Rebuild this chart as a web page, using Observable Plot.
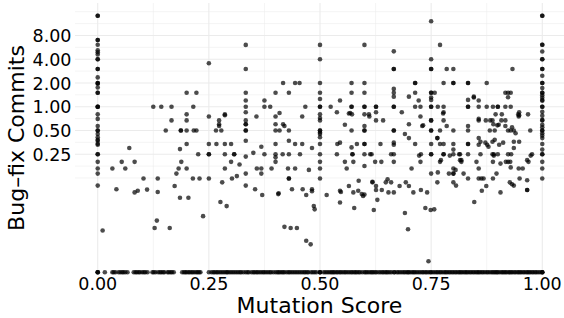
<!DOCTYPE html>
<html><head><meta charset="utf-8">
<script src="https://cdn.jsdelivr.net/npm/d3@7"></script>
<script src="https://cdn.jsdelivr.net/npm/@observablehq/plot@0.6"></script>
<style>
html,body{margin:0;padding:0;background:#fff;}
#chart svg{display:block;}
</style></head><body><div id="chart"></div>
<script>
// ---- tick labels / titles ----
const xTicks = [0, 0.25, 0.5, 0.75, 1];
const yTicks = [0.25, 0.5, 1, 2, 4, 8];
const xLabel = "Mutation Score";
const yLabel = "Bug–fix Commits";

// ---- data ----
// bug-fix commits of projects with mutation score 0
const commitsAtScore0 = [14.2, 14.2, 7, 7, 6.1, 5.2, 4.9, 4.6, 4, 4, 3, 3, 2.35, 2, 2, 1.95, 1.75, 1.5, 1.5,
  1, 1, 1, 0.8, 0.7, 0.57, 0.5, 0.5, 0.45, 0.41, 0.38, 0.37, 0.34, 0.33, 0.25, 0.25, 0.2, 0.165, 0.142, 0.1];
// bug-fix commits of projects with mutation score 1
const commitsAtScore1 = [14.2, 14.2, 6.1, 6.1, 5, 4, 4, 3, 3, 2.47, 2, 2, 1.72, 1.5, 1.5, 1.4, 1.31, 1.22, 1.19,
  1, 1, 0.86, 0.77, 0.68, 0.67, 0.59, 0.55, 0.5, 0.5, 0.46, 0.43, 0.4, 0.336, 0.286, 0.25, 0.25, 0.2, 0.165, 0.123];
// [mutation score, bug-fix commits] for scores strictly between 0 and 1
const scoreCommitPairs = [
[0.011,0.027],[0.033,0.165],[0.042,0.09],[0.054,0.2],[0.062,0.165],[0.071,0.3],[0.083,0.2],[0.083,0.082],[0.09,0.086],[0.103,0.123],[0.111,0.089],[0.125,1],[0.128,0.029],[0.133,0.036],[0.135,0.123],[0.135,0.083],[0.143,1],[0.153,0.5],[0.162,0.029],[0.166,1],[0.166,0.67],[0.173,0.099],[0.177,0.142],[0.182,0.165],[0.185,0.29],[0.185,0.07],[0.187,0.5],[0.187,0.5],[0.188,0.2],[0.2,1.5],[0.2,0.8],[0.2,0.67],[0.2,0.5],[0.2,0.336],[0.2,0.165],[0.204,0.07],[0.214,0.123],[0.215,1],[0.216,0.5],[0.222,1.5],[0.222,0.5],[0.226,0.25],[0.229,0.123],[0.237,0.041],
[0.25,3.55],[0.25,0.75],[0.25,0.336],[0.25,0.25],[0.25,0.25],[0.25,0.123],
[0.266,0.5],[0.267,0.336],[0.273,0.67],[0.273,0.6],[0.273,0.57],[0.276,0.062],[0.278,0.5],[0.28,0.11],[0.286,0.8],[0.286,0.78],[0.286,0.336],[0.286,0.25],[0.286,0.165],[0.29,0.055],[0.3,0.336],[0.3,0.2],[0.302,0.123],[0.307,0.25],[0.307,0.25],[0.313,0.132],[0.319,0.185],
[0.333,6.07],[0.333,3],[0.333,1.5],[0.333,1.2],[0.333,1],[0.333,0.85],[0.333,0.67],[0.333,0.6],[0.333,0.6],[0.333,0.5],[0.333,0.5],[0.333,0.37],[0.333,0.233],[0.333,0.142],[0.333,0.1],
[0.35,0.26],[0.354,0.09],[0.357,0.75],[0.358,0.165],[0.368,0.31],[0.368,0.165],[0.368,0.142],[0.37,0.076],[0.375,1.2],[0.375,1],[0.375,0.25],[0.388,1],[0.391,0.165],[0.4,1.5],[0.4,0.75],[0.4,0.6],[0.4,0.5],[0.4,0.336],[0.4,0.25],[0.4,0.228],[0.4,0.2],[0.406,0.078],[0.407,0.08],[0.409,0.83],[0.409,0.5],[0.416,0.25],[0.417,2],[0.417,0.6],[0.42,0.57],[0.42,0.03],[0.428,0.165],[0.43,1.5],[0.43,0.5],[0.43,0.37],[0.43,0.25],[0.43,0.123],[0.43,0.123],[0.434,0.029],[0.437,0.09],[0.444,2],[0.444,0.336],[0.444,0.165],[0.448,0.029],[0.454,2],[0.455,0.25],[0.46,0.75],[0.46,0.336],[0.461,0.09],[0.467,1],[0.469,0.076],[0.469,0.02],[0.475,0.158],[0.479,0.018],[0.482,0.3],[0.482,0.09],[0.482,0.085],[0.486,0.055],[0.488,0.05],
[0.5,6.07],[0.5,4],[0.5,2],[0.5,1.5],[0.5,1.25],[0.5,1],[0.5,1],[0.5,0.8],[0.5,0.72],[0.5,0.67],[0.5,0.5],[0.5,0.5],[0.5,0.47],[0.5,0.45],[0.5,0.41],[0.5,0.336],[0.5,0.25],[0.5,0.2],[0.5,0.165],[0.5,0.123],
[0.515,0.076],[0.524,1],[0.538,0.85],[0.538,0.25],[0.539,0.336],[0.545,1.2],[0.545,0.35],[0.545,0.086],[0.545,0.061],[0.547,0.083],[0.556,0.59],[0.556,0.2],[0.56,0.165],[0.565,0.82],[0.565,0.099],[0.568,0.83],[0.571,2],[0.571,1.5],[0.571,1],[0.571,1],[0.571,0.5],[0.571,0.305],[0.572,0.8],[0.573,0.25],[0.573,0.25],[0.575,0.2],[0.575,0.082],[0.577,0.052],[0.583,0.336],[0.586,0.086],[0.587,0.115],[0.594,0.078],[0.597,0.074],
[0.6,6.07],[0.6,2],[0.6,1.5],[0.6,1],[0.6,1],[0.6,0.8],[0.6,0.57],[0.6,0.5],[0.6,0.5],[0.6,0.336],[0.6,0.336],[0.6,0.25],[0.6,0.177],[0.6,0.077],
[0.61,0.8],[0.611,0.75],[0.613,0.25],[0.616,0.25],[0.618,0.112],[0.618,0.11],[0.621,0.049],[0.624,0.2],[0.626,1],[0.626,1],[0.626,0.85],[0.626,0.67],[0.626,0.099],[0.626,0.088],[0.629,0.066],[0.636,0.336],[0.638,0.2],[0.639,0.088],[0.642,0.67],[0.648,0.11],[0.652,0.12],[0.654,0.082],[0.66,0.25],[0.66,0.11],
[0.666,5.03],[0.666,3],[0.666,3],[0.666,1.68],[0.666,1.5],[0.666,1.34],[0.666,1],[0.666,1],[0.666,0.5],[0.666,0.5],[0.666,0.35],[0.666,0.33],[0.666,0.25],[0.666,0.2],[0.666,0.082],
[0.679,0.099],[0.684,0.85],[0.691,0.45],[0.691,0.045],[0.693,0.11],[0.698,0.028],[0.7,1.34],[0.7,0.6],[0.7,0.4],[0.7,0.099],[0.706,0.165],[0.71,0.082],[0.714,2],[0.714,2],[0.714,1.5],[0.714,1],[0.714,0.336],[0.722,1.2],[0.723,0.24],[0.726,1],[0.726,0.75],[0.726,0.2],[0.727,0.25],[0.727,0.088],[0.73,0.57],[0.732,0.58],[0.737,0.052],[0.741,0.082],[0.744,0.011],[0.749,0.049],
[0.75,12.1],[0.75,4],[0.75,3],[0.75,3],[0.75,1.5],[0.75,1.5],[0.75,1.31],[0.75,1.22],[0.75,1],[0.75,1],[0.75,0.67],[0.75,0.67],[0.75,0.5],[0.75,0.5],[0.75,0.336],[0.75,0.25],[0.75,0.25],[0.75,0.142],
[0.757,0.05],[0.758,1.5],[0.764,0.4],[0.764,0.4],[0.764,0.11],[0.765,1],[0.765,0.147],[0.77,6.07],[0.77,0.5],[0.77,0.336],[0.77,0.2],[0.772,0.21],[0.777,0.82],[0.778,2],[0.778,1],[0.778,0.85],[0.778,0.67],[0.778,0.336],[0.778,0.25],[0.778,0.25],[0.785,3],[0.785,0.57],[0.79,0.142],[0.792,0.24],[0.8,3],[0.8,2],[0.8,2],[0.8,0.5],[0.8,0.336],[0.8,0.286],[0.8,0.25],[0.8,0.165],[0.8,0.142],[0.8,0.142],[0.8,0.11],[0.805,0.158],[0.806,0.1],[0.813,0.25],[0.815,0.25],[0.815,0.21],[0.818,0.21],[0.818,0.2],[0.823,0.142],
[0.833,2],[0.833,2],[0.833,1.22],[0.833,1],[0.833,1],[0.833,0.57],[0.833,0.5],[0.833,0.336],[0.833,0.336],[0.833,0.25],[0.833,0.123],[0.846,1.34],[0.846,1.31],[0.847,0.062],[0.852,0.2],[0.857,1.2],[0.857,1],[0.857,0.7],[0.857,0.67],[0.857,0.4],[0.857,0.33],[0.857,0.165],[0.857,0.123],[0.861,0.36],[0.861,0.25],[0.863,0.123],[0.864,0.086],[0.868,0.123],[0.872,0.35],[0.873,0.67],[0.874,0.099],[0.875,2],[0.875,1],[0.876,0.33],[0.879,0.31],[0.882,0.5],[0.883,0.67],[0.888,0.67],[0.888,0.36],[0.888,0.25],[0.889,1],[0.889,0.2],[0.889,0.123],[0.89,0.6],[0.891,0.25],[0.891,0.24],[0.893,0.5],[0.893,0.38],[0.895,0.8],[0.897,0.142],[0.899,0.58],[0.9,1],[0.9,1],[0.9,0.25],[0.902,0.59],[0.903,0.33],[0.906,0.19],[0.906,0.082],[0.908,0.67],[0.909,0.8],[0.912,0.35],[0.917,1.5],[0.917,1],[0.917,0.67],[0.917,0.57],[0.918,0.2],[0.923,1.5],[0.923,1.32],[0.923,0.5],[0.923,0.25],[0.923,0.2],[0.927,0.11],[0.928,0.2],[0.929,1.5],[0.929,1],[0.929,0.5],[0.929,0.17],[0.93,0.25],[0.932,0.55],[0.932,0.104],[0.933,3],[0.936,0.5],[0.936,0.36],[0.936,0.3],[0.936,0.1],[0.94,0.46],[0.946,0.8],[0.947,0.75],[0.947,0.165],[0.948,0.85],[0.948,0.78],[0.948,0.36],[0.949,0.123],[0.956,0.165],[0.966,0.21],[0.966,0.117],[0.966,0.088],[0.966,0.088],[0.968,0.8],[0.969,0.2],[0.973,0.5],[0.974,0.24],[0.977,0.25]
];
// mutation scores of projects with zero bug-fix commits (drawn at the panel's bottom edge)
const scoresWithZeroCommits = [0, 0, 0, 0.016, 0.033, 0.036, 0.04, 0.047, 0.051, 0.055, 0.058, 0.062, 0.067, 0.081, 0.085,
  0.088, 0.092, 0.095, 0.1, 0.104, 0.107, 0.112, 0.123, 0.126, 0.13, 0.136, 0.14, 0.143, 0.147, 0.15, 0.157, 0.16, 0.164,
  0.167, 0.171, 0.19, 0.194, 0.197, 0.2, 0.204, 0.207, 0.211, 0.214, 0.218, 0.222, 0.225, 0.228, 0.231, 0.25, 0.256,
  0.26, 0.263, 0.267, 0.27, 0.274, 0.278, 0.282, 0.286, 0.29, 0.292, 0.296, 0.3, 0.304, 0.308, 0.312, 0.316, 0.32,
  0.323, 0.328, 0.333, 0.337, 0.34, 0.346, 0.35, 0.353, 0.357, 0.36, 0.364, 0.368, 0.372, 0.375, 0.379, 0.383, 0.387,
  0.39, 0.395, 0.4, 0.404, 0.407, 0.41, 0.414, 0.417, 0.42, 0.425, 0.429, 0.432, 0.436, 0.44, 0.444, 0.448, 0.452,
  0.456, 0.46, 0.464, 0.467, 0.471, 0.474, 0.48, 0.484, 0.488, 0.492, 0.5, 0.5, 0.5, 0.508, 0.512, 0.516, 0.52, 0.524,
  0.527, 0.53, 0.533, 0.537, 0.54, 0.544, 0.547, 0.551, 0.555, 0.558, 0.562, 0.566, 0.57, 0.573, 0.577, 0.58, 0.583,
  0.587, 0.59, 0.595, 0.6, 0.603, 0.606, 0.61, 0.614, 0.617, 0.62, 0.624, 0.627, 0.632, 0.636, 0.64, 0.643, 0.647,
  0.65, 0.653, 0.657, 0.661, 0.667, 0.667, 0.673, 0.676, 0.68, 0.684, 0.688, 0.691, 0.695, 0.698, 0.7, 0.704, 0.708,
  0.711, 0.714, 0.718, 0.722, 0.726, 0.73, 0.733, 0.737, 0.74, 0.744, 0.748, 0.75, 0.754, 0.758, 0.762, 0.765, 0.769,
  0.772, 0.776, 0.78, 0.783, 0.786, 0.79, 0.793, 0.797, 0.8, 0.804, 0.807, 0.811, 0.814, 0.817, 0.82, 0.824, 0.827,
  0.83, 0.833, 0.837, 0.84, 0.844, 0.847, 0.851, 0.854, 0.857, 0.86, 0.864, 0.867, 0.871, 0.875, 0.878, 0.882, 0.886,
  0.889, 0.892, 0.895, 0.898, 0.9, 0.904, 0.908, 0.911, 0.914, 0.917, 0.92, 0.924, 0.927, 0.93, 0.933, 0.937, 0.94,
  0.944, 0.947, 0.95, 0.953, 0.957, 0.96, 0.964, 0.967, 0.97, 0.973, 0.977, 0.98, 0.984, 0.987, 0.991, 0.995, 1, 1, 1];

// ---- build table ----
const data = [
  ...commitsAtScore0.map(c => ({score: 0, commits: c})),
  ...commitsAtScore1.map(c => ({score: 1, commits: c})),
  ...scoreCommitPairs.map(([s, c]) => ({score: s, commits: c})),
  ...scoresWithZeroCommits.map(s => ({score: s, commits: 0}))
];

// y domain: log2 extent of positive values, expanded 5% each side (ggplot default)
const logs = data.filter(d => d.commits > 0).map(d => Math.log2(d.commits));
const lo = d3.min(logs), hi = d3.max(logs), pad = (hi - lo) * 0.05;
const yDomain = [2 ** (lo - pad), 2 ** (hi + pad)];
const xDomain = [-0.05, 1.05];

// minor grid: midpoints (in transformed space) of major breaks extended by one step
const yMajLog = yTicks.map(Math.log2);
const yExt = [yMajLog[0] - 1, ...yMajLog, yMajLog[yMajLog.length - 1] + 1];
const yMinorLog = [];
for (let i = 0; i < yExt.length - 1; i++) { yMinorLog.push(yExt[i], (yExt[i] + yExt[i + 1]) / 2); }
yMinorLog.push(yExt[yExt.length - 1]);
const yMinor = yMinorLog.filter(v => !yMajLog.includes(v)).map(v => 2 ** v)
  .filter(v => v >= yDomain[0] && v <= yDomain[1]);
const xMinor = d3.pairs(xTicks).map(([a, b]) => (a + b) / 2);

const FONT = "DejaVu Sans";
const grid = "#ebebeb";
const dotStyle = {r: 2.3, fill: "#000", fillOpacity: 0.7, stroke: "none"};

const plot = Plot.plot({
  width: 564,
  height: 318,
  marginTop: 3,
  marginBottom: 45,
  marginLeft: 75,
  marginRight: 0,
  style: {fontFamily: FONT, background: "#fff", color: "#000"},
  x: {domain: xDomain},
  y: {type: "log", base: 2, domain: yDomain},
  marks: [
    Plot.ruleY(yMinor, {stroke: grid, strokeWidth: 0.55}),
    Plot.ruleX(xMinor, {stroke: grid, strokeWidth: 0.55}),
    Plot.ruleY(yTicks, {stroke: grid, strokeWidth: 1.1}),
    Plot.ruleX(xTicks, {stroke: grid, strokeWidth: 1.1}),
    Plot.axisY(yTicks, {tickSize: 0, tickPadding: 4, tickFormat: d3.format(".2f"), fontSize: 17.5, dy: 1, label: null}),
    Plot.axisX(xTicks, {tickSize: 0, tickPadding: 4, tickFormat: d3.format(".2f"), fontSize: 17.5, label: null}),
    // projects with bug-fix commits > 0
    Plot.dot(data.filter(d => d.commits > 0), {x: "score", y: "commits", ...dotStyle}),
    // zero bug-fix commits: squished to the panel's bottom edge
    Plot.dot(data.filter(d => d.commits === 0), {x: "score", y: () => yDomain[0], dy: -1.2, ...dotStyle})
  ]
});

// axis titles
const sx = plot.scale("x"), sy = plot.scale("y");
const svg = d3.select(plot);
const xMid = (sx.range[0] + sx.range[1]) / 2;
const yMid = (sy.range[0] + sy.range[1]) / 2;
svg.append("text")
  .attr("x", xMid).attr("y", sy.range[0] + 40)
  .attr("text-anchor", "middle").attr("font-family", FONT).attr("font-size", 22).attr("fill", "#000")
  .text(xLabel);
svg.append("text")
  .attr("transform", `translate(${sx.range[0] - 51},${yMid}) rotate(-90)`)
  .attr("text-anchor", "middle").attr("font-family", FONT).attr("font-size", 22).attr("fill", "#000")
  .text(yLabel);

document.getElementById("chart").appendChild(plot);
</script>
</body></html>
